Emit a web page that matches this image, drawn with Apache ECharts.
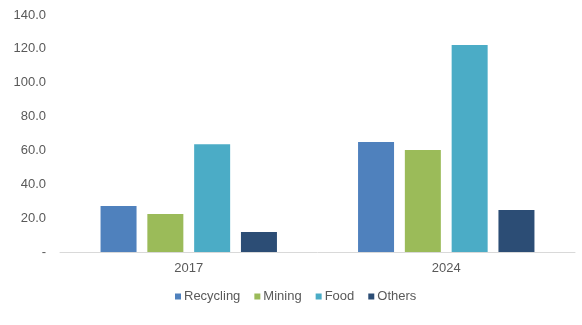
<!DOCTYPE html>
<html><head><meta charset="utf-8">
<script src="https://cdn.jsdelivr.net/npm/echarts@6/dist/echarts.min.js"></script>
<style>html,body{margin:0;padding:0;background:#fff}#c{width:582px;height:325px}</style>
</head><body><div id="c"></div>
<script>
var categories = ['2017', '2024'];
var seriesNames = ['Recycling', 'Mining', 'Food', 'Others'];
var recycling = [27.2, 65.0];
var mining = [22.4, 60.2];
var food = [63.6, 122.3];
var others = [11.8, 24.8];
var colors = ['#4F81BD', '#9BBB59', '#4BACC6', '#2C4D75'];
var values = [recycling, mining, food, others];

var chart = echarts.init(document.getElementById('c'));
chart.setOption({
  animation: false,
  textStyle: {fontFamily: 'Liberation Sans, Arial, sans-serif'},
  grid: {left: 60, right: 7, top: 15, bottom: 73},
  legend: {
    top: 285, left: 170, itemWidth: 6, itemHeight: 6, itemGap: 14,
    icon: 'rect',
    textStyle: {color: '#595959', fontSize: 13, padding: [0, 0, 0, -2]},
    data: seriesNames
  },
  xAxis: {
    type: 'category', data: categories,
    axisLine: {lineStyle: {color: '#D9D9D9'}},
    axisTick: {show: false},
    axisLabel: {color: '#595959', fontSize: 13, margin: 10}
  },
  yAxis: {
    type: 'value', min: 0, max: 140, interval: 20,
    splitLine: {show: false},
    axisLine: {show: false}, axisTick: {show: false},
    axisLabel: {color: '#595959', fontSize: 13, margin: 14,
      formatter: function (v) { return v === 0 ? '-' : v.toFixed(1); }}
  },
  series: seriesNames.map(function (n, i) {
    return {name: n, type: 'bar', data: values[i], barWidth: 36, barGap: '30%',
      itemStyle: {color: colors[i]}};
  })
});
</script></body></html>
